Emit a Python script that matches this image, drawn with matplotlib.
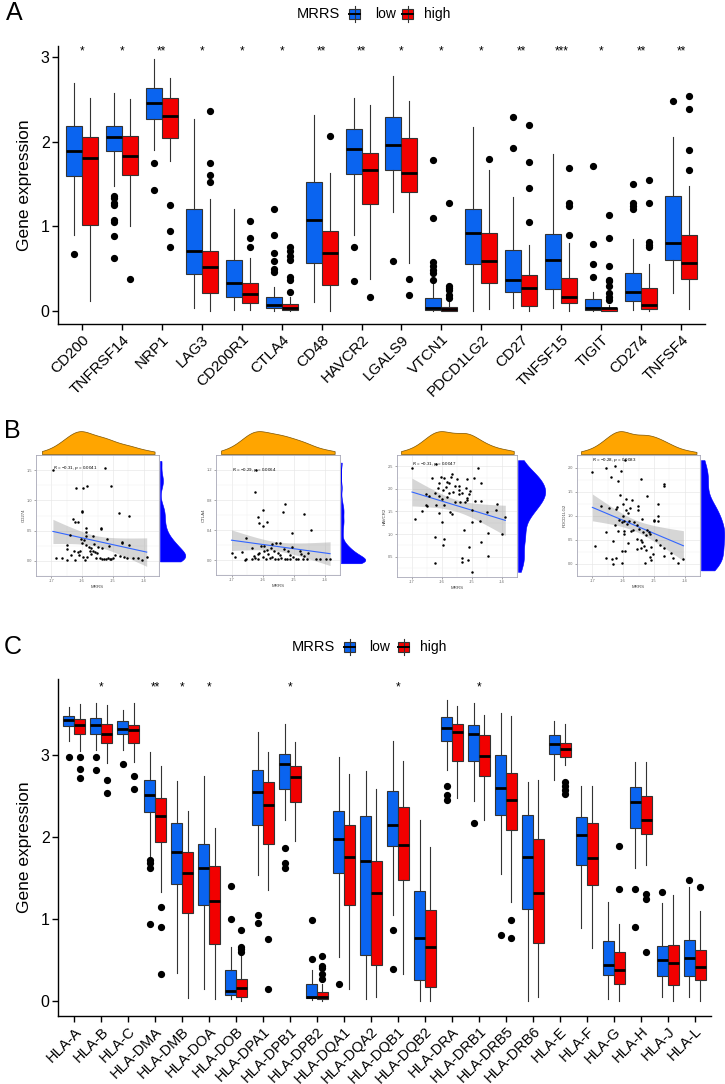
import numpy as np
import matplotlib
matplotlib.use("Agg")
import matplotlib.pyplot as plt
from matplotlib.patches import Rectangle
from matplotlib.lines import Line2D

plt.rcParams['font.family'] = ['Liberation Sans', 'DejaVu Sans']

BLUE = "#0A64F0"
RED = "#F20000"

# ---------------- Panel A data ----------------
genes_A = ["CD200", "TNFRSF14", "NRP1", "LAG3", "CD200R1", "CTLA4", "CD48", "HAVCR2",
           "LGALS9", "VTCN1", "PDCD1LG2", "CD27", "TNFSF15", "TIGIT", "CD274", "TNFSF4"]
stars_A = ["*", "*", "**", "*", "*", "*", "**", "**", "*", "*", "*", "**", "***", "*", "**", "**"]
# [whisker low, Q1, median, Q3, whisker high]
low_A = [[0.90, 1.59, 1.89, 2.19, 2.69], [1.48, 1.89, 2.06, 2.18, 2.57], [1.90, 2.27, 2.46, 2.63, 2.98],
         [0.04, 0.44, 0.71, 1.20, 2.27], [0.01, 0.16, 0.33, 0.60, 1.20], [0.00, 0.03, 0.07, 0.17, 0.28],
         [0.11, 0.57, 1.07, 1.52, 2.32], [0.90, 1.62, 1.91, 2.15, 2.52], [1.17, 1.67, 1.96, 2.29, 2.77],
         [0.00, 0.01, 0.03, 0.15, 0.33], [0.00, 0.55, 0.92, 1.20, 2.17], [0.03, 0.23, 0.37, 0.72, 1.35],
         [0.03, 0.26, 0.60, 0.91, 1.85], [0.00, 0.01, 0.04, 0.14, 0.23], [0.01, 0.12, 0.22, 0.45, 0.85],
         [0.21, 0.60, 0.80, 1.36, 2.06]]
low_A_out = [[0.67], [1.36, 1.33, 1.27, 1.25, 1.07, 1.05, 0.88, 0.63], [1.75, 1.43], [], [],
             [1.20, 0.90, 0.68, 0.59, 0.50, 0.46], [], [0.76, 0.35], [0.59],
             [1.78, 1.10, 0.58, 0.53, 0.48, 0.45, 0.37], [], [2.29, 1.93], [],
             [1.71, 0.79, 0.56, 0.40], [1.50, 1.28, 1.24, 1.21], [2.48]]
high_A = [[0.12, 1.02, 1.81, 2.05, 2.52], [1.00, 1.60, 1.83, 2.07, 2.50], [1.77, 2.04, 2.30, 2.52, 2.75],
          [0.00, 0.21, 0.52, 0.71, 1.32], [0.01, 0.09, 0.20, 0.33, 0.62], [0.00, 0.01, 0.04, 0.08, 0.16],
          [0.00, 0.31, 0.69, 0.94, 1.63], [0.38, 1.26, 1.66, 1.86, 2.43], [0.57, 1.41, 1.63, 2.04, 2.48],
          [0.00, 0.00, 0.02, 0.05, 0.12], [0.02, 0.33, 0.59, 0.92, 1.67], [0.00, 0.06, 0.27, 0.43, 0.78],
          [0.00, 0.09, 0.17, 0.39, 0.80], [0.00, 0.00, 0.03, 0.04, 0.07], [0.00, 0.02, 0.07, 0.27, 0.55],
          [0.02, 0.38, 0.57, 0.90, 1.48]]
high_A_out = [[], [0.38], [1.25, 0.94, 0.76], [2.36, 1.75, 1.60, 1.52], [1.06, 0.86, 0.75],
              [0.75, 0.71, 0.65, 0.60, 0.40, 0.37, 0.23], [2.07], [0.16], [0.38, 0.19],
              [1.28, 0.29, 0.27, 0.25, 0.19, 0.15], [1.80], [2.20, 1.76, 1.45, 1.05],
              [1.69, 1.28, 1.24, 0.90], [1.13, 0.86, 0.53, 0.37, 0.35, 0.29, 0.21, 0.16, 0.13],
              [1.55, 1.28, 0.81, 0.78, 0.76], [2.54, 2.39, 1.90, 1.67]]

# ---------------- Panel C data ----------------
genes_C = ["HLA-A", "HLA-B", "HLA-C", "HLA-DMA", "HLA-DMB", "HLA-DOA", "HLA-DOB", "HLA-DPA1",
           "HLA-DPB1", "HLA-DPB2", "HLA-DQA1", "HLA-DQA2", "HLA-DQB1", "HLA-DQB2", "HLA-DRA",
           "HLA-DRB1", "HLA-DRB5", "HLA-DRB6", "HLA-E", "HLA-F", "HLA-G", "HLA-H", "HLA-J", "HLA-L"]
stars_C = ["", "*", "", "**", "*", "*", "", "", "*", "", "", "", "*", "", "", "*", "", "", "", "", "", "", "", ""]
low_C = [[3.17, 3.35, 3.43, 3.48, 3.58], [3.06, 3.26, 3.36, 3.45, 3.63], [3.06, 3.26, 3.32, 3.42, 3.55],
         [1.74, 2.30, 2.51, 2.69, 3.03], [0.34, 1.43, 1.82, 2.17, 2.68], [0.14, 1.17, 1.62, 1.91, 2.74],
         [0.02, 0.07, 0.12, 0.37, 0.65], [1.53, 2.14, 2.55, 2.82, 3.28], [2.21, 2.59, 2.89, 3.01, 3.38],
         [0.01, 0.03, 0.05, 0.20, 0.37], [0.53, 1.56, 1.97, 2.31, 2.98], [0.02, 0.56, 1.70, 2.25, 2.80],
         [1.05, 1.89, 2.15, 2.56, 3.17], [0.00, 0.25, 0.77, 1.34, 2.21], [2.82, 3.17, 3.33, 3.46, 3.67],
         [2.44, 2.93, 3.25, 3.37, 3.63], [1.55, 2.27, 2.60, 3.00, 3.51], [0.00, 1.12, 1.75, 2.27, 2.67],
         [2.69, 3.01, 3.13, 3.24, 3.41], [0.89, 1.66, 2.02, 2.24, 2.62], [0.02, 0.31, 0.44, 0.73, 1.20],
         [1.62, 2.11, 2.42, 2.61, 2.91], [0.04, 0.30, 0.50, 0.67, 1.19], [0.05, 0.30, 0.52, 0.74, 1.39]]
low_C_out = [[2.98], [2.97, 2.81], [2.89], [1.72, 1.68, 1.62, 0.94], [], [], [1.40, 1.00], [1.05, 0.95],
             [1.87, 1.68, 1.62], [0.98, 0.51], [0.20], [], [0.86, 0.39], [], [2.62, 2.51, 2.45], [2.17],
             [0.80], [], [], [], [], [1.36, 0.90], [1.33], [1.47]]
high_C = [[3.05, 3.26, 3.36, 3.44, 3.62], [2.90, 3.14, 3.26, 3.38, 3.61], [2.91, 3.14, 3.30, 3.37, 3.64],
          [1.33, 1.94, 2.26, 2.47, 2.86], [0.03, 1.07, 1.56, 1.81, 2.31], [0.02, 0.69, 1.22, 1.64, 2.11],
          [0.00, 0.05, 0.16, 0.26, 0.56], [1.35, 1.91, 2.39, 2.67, 3.03], [1.95, 2.43, 2.73, 2.87, 3.16],
          [0.00, 0.02, 0.04, 0.11, 0.20], [0.14, 1.17, 1.76, 2.14, 2.77], [0.04, 0.44, 1.31, 1.71, 2.58],
          [0.33, 1.47, 1.90, 2.36, 2.93], [0.00, 0.17, 0.65, 1.11, 1.88], [2.48, 2.93, 3.28, 3.38, 3.60],
          [2.20, 2.74, 2.99, 3.24, 3.49], [1.21, 2.08, 2.45, 2.78, 3.48], [0.05, 0.70, 1.31, 1.97, 2.70],
          [2.88, 2.97, 3.07, 3.15, 3.38], [0.64, 1.41, 1.74, 2.17, 2.62], [0.00, 0.20, 0.37, 0.59, 0.94],
          [1.66, 2.04, 2.21, 2.50, 2.91], [0.00, 0.19, 0.46, 0.68, 1.29], [0.00, 0.25, 0.41, 0.62, 1.09]]
high_C_out = [[2.98, 2.83, 2.72], [2.69, 2.53], [2.74, 2.59], [1.14, 0.90, 0.32], [], [],
              [0.86, 0.66, 0.63, 0.60], [0.75, 0.14], [], [0.55, 0.42, 0.40, 0.32, 0.27], [], [], [], [],
              [], [], [0.99, 0.77], [], [2.67, 2.62, 2.57, 2.52], [], [1.89, 1.36], [1.30, 1.24, 0.59],
              [], [1.39]]

# ---------------- Panel B data ----------------
genes_B = ["CD274", "CTLA4", "HAVCR2", "PDCD1LG2"]
labels_B = [r"$\it{R}$ = −0.31, $\it{p}$ = 0.0041", r"$\it{R}$ = −0.29, $\it{p}$ = 0.0064",
            r"$\it{R}$ = −0.31, $\it{p}$ = 0.0047", r"$\it{R}$ = −0.28, $\it{p}$ = 0.0083"]
x1 = [-16.95, -15.27, -16.19, -15.98, -15.83, -15.06, -15.99, -15.99, -14.81, -14.48,
      -16.31, -16.24, -16.15, -15.87, -15.38, -15.38, -16.41, -15.65, -15.87, -15.87,
      -15.20, -14.70, -14.70, -16.04, -15.95, -14.48, -16.48, -16.50, -16.27, -16.14,
      -15.87, -15.78, -15.71, -15.65, -15.58, -15.76, -15.47, -15.34, -15.11, -16.86,
      -16.64, -16.50, -16.37, -16.24, -16.10, -15.96, -15.92, -15.83, -15.72, -15.56,
      -15.43, -15.34, -15.28, -15.23, -15.16, -15.10, -15.05, -14.99, -14.94, -14.76,
      -14.64, -14.54, -14.36, -14.18, -14.05, -13.90, -16.08, -15.52, -16.01, -15.61]
y1 = [1.50, 1.53, 1.21, 1.21, 1.24, 1.24, 0.83, 0.80, 0.79, 0.75,
      0.70, 0.65, 0.64, 0.55, 0.55, 0.52, 0.43, 0.41, 0.47, 0.41,
      0.36, 0.32, 0.29, 0.36, 0.34, 0.27, 0.27, 0.20, 0.17, 0.15,
      0.26, 0.23, 0.21, 0.17, 0.14, 0.16, 0.23, 0.21, 0.25, 0.05,
      0.05, 0.02, 0.09, 0.02, 0.10, 0.07, 0.02, 0.07, 0.12, 0.05,
      0.04, 0.03, 0.03, 0.03, 0.04, 0.03, 0.03, 0.05, 0.09, 0.08,
      0.07, 0.05, 0.04, 0.04, 0.01, 0.07, 0.17, 0.13, 0.29, 0.28]
x2 = [-16.21, -16.24, -15.26, -16.14, -16.00, -16.10, -15.84, -16.00, -15.35, -14.66,
      -14.42, -15.05, -16.53, -17.00, -16.89, -16.66, -16.33, -16.05, -15.94, -15.68,
      -15.57, -15.44, -15.72, -15.87, -16.10, -15.96, -15.82, -15.63, -15.49, -15.31,
      -15.17, -15.05, -14.80, -14.75, -14.52, -16.52, -16.35, -16.24, -16.14, -16.00,
      -15.88, -15.77, -15.70, -15.60, -15.51, -15.40, -15.29, -15.21, -15.12, -15.01,
      -14.93, -14.84, -14.70, -14.58, -14.28, -14.14, -13.96, -13.82, -16.56, -16.28,
      -16.16, -15.44, -15.12, -14.66]
y2 = [1.20, 0.90, 0.74, 0.57, 0.67, 0.50, 0.51, 0.46, 0.64, 0.61,
      0.40, 0.36, 0.29, 0.09, 0.04, 0.11, 0.16, 0.19, 0.19, 0.21,
      0.23, 0.23, 0.16, 0.14, 0.10, 0.12, 0.08, 0.12, 0.10, 0.15,
      0.12, 0.18, 0.12, 0.08, 0.09, 0.01, 0.02, 0.03, 0.01, 0.04,
      0.02, 0.03, 0.04, 0.01, 0.02, 0.03, 0.01, 0.02, 0.01, 0.04,
      0.01, 0.02, 0.02, 0.01, 0.01, 0.01, 0.01, 0.01, 0.00, 0.06,
      0.08, 0.07, 0.07, 0.05]
x3 = [-17.00, -16.21, -15.66, -15.71, -14.80, -16.33, -16.04, -15.92, -15.85, -15.51,
      -15.16, -14.95, -14.69, -16.09, -15.76, -15.58, -15.42, -16.15, -15.87, -15.45,
      -15.97, -15.19, -15.08, -16.24, -15.78, -15.65, -15.33, -15.10, -16.42, -16.52,
      -16.10, -15.45, -15.16, -15.16, -15.25, -14.91, -15.99, -15.83, -15.57, -15.39,
      -16.52, -16.21, -15.92, -15.00, -14.69, -14.18, -13.89, -14.50, -14.21, -16.68,
      -16.90, -16.49, -15.72, -15.68, -16.10, -14.75, -15.99, -15.00, -15.26, -16.24,
      -15.92, -14.69, -14.47, -13.99, -15.97, -15.10, -14.47, -16.24, -15.33, -15.33,
      -15.12, -14.99]
y3 = [2.47, 2.54, 2.34, 2.27, 2.46, 2.23, 2.26, 2.23, 2.16, 2.21,
      2.21, 2.23, 2.13, 2.13, 2.13, 2.07, 2.07, 2.02, 2.04, 1.98,
      1.98, 2.02, 1.95, 1.91, 1.91, 1.93, 1.91, 1.88, 1.85, 1.88,
      1.85, 1.88, 1.80, 1.75, 1.70, 1.73, 1.77, 1.83, 1.70, 1.70,
      1.64, 1.64, 1.64, 1.54, 1.73, 1.66, 1.37, 1.48, 1.54, 1.50,
      1.34, 1.63, 1.48, 1.45, 1.46, 1.30, 1.27, 1.27, 1.09, 0.94,
      0.89, 0.82, 1.02, 1.00, 0.75, 0.71, 0.51, 0.35, 0.46, 0.39,
      0.42, 0.16]
x4 = [-17.00, -16.57, -16.28, -15.93, -16.39, -16.06, -16.17, -15.41, -14.66, -14.66,
      -16.09, -15.22, -14.87, -15.92, -16.73, -16.47, -16.19, -16.23, -15.99, -15.70,
      -15.51, -15.53, -15.79, -15.83, -15.92, -15.38, -15.00, -14.85, -14.85, -14.98,
      -15.99, -16.04, -16.13, -15.96, -15.81, -15.66, -15.56, -15.87, -16.28, -15.49,
      -15.68, -15.75, -15.96, -15.98, -15.34, -15.25, -15.15, -15.12, -15.22, -16.56,
      -16.16, -16.33, -15.83, -15.56, -15.41, -15.39, -15.32, -15.56, -15.41, -15.25,
      -15.08, -14.94, -14.81, -14.68, -14.66, -14.38, -14.04, -14.21, -16.92, -16.56,
      -16.36, -16.23, -16.34, -16.05, -16.05, -15.93, -15.28, -15.11, -15.08, -15.02,
      -14.43]
y4 = [1.91, 1.99, 2.04, 2.17, 1.82, 1.94, 1.72, 1.78, 1.67, 1.63,
      1.43, 1.41, 1.25, 1.36, 1.20, 1.17, 1.19, 1.15, 1.25, 1.33,
      1.21, 1.13, 1.17, 1.07, 1.12, 0.94, 0.90, 1.00, 0.89, 0.92,
      1.00, 0.87, 0.92, 0.89, 0.90, 0.87, 0.81, 0.84, 0.81, 0.73,
      0.71, 0.68, 0.68, 0.62, 0.66, 0.61, 0.66, 0.62, 0.71, 0.66,
      0.68, 0.48, 0.43, 0.53, 0.51, 0.45, 0.38, 0.31, 0.33, 0.30,
      0.36, 0.49, 0.39, 0.33, 0.16, 0.12, 0.10, 0.02, 0.37, 0.12,
      0.10, 0.12, 0.01, 0.02, 0.28, 0.28, 0.02, 0.14, 0.09, 0.20,
      0.22]
yticks_B = [[0.0, 0.5, 1.0, 1.5], [0.0, 0.4, 0.8, 1.2], [0.5, 1.0, 1.5, 2.0, 2.5], [0.0, 0.5, 1.0, 1.5, 2.0]]
xticks_B = [-17, -16, -15, -14]

# ---------------- figure ----------------
W, H = 725, 1084
fig = plt.figure(figsize=(W / 100, H / 100), dpi=100)


def add_ax(l, t, r, b):
    return fig.add_axes([l / W, 1 - b / H, (r - l) / W, (b - t) / H])


def box_panel(ax, genes, low, low_out, high, high_out, stars, star_y, ylim, tick_fs):
    for i in range(len(genes)):
        for s, fl, off, col in [(low[i], low_out[i], -0.2, BLUE), (high[i], high_out[i], 0.2, RED)]:
            d = dict(whislo=s[0], q1=s[1], med=s[2], q3=s[3], whishi=s[4], fliers=fl)
            ax.bxp([d], positions=[i + off], widths=0.4, showcaps=False, patch_artist=True,
                   boxprops=dict(facecolor=col, edgecolor="#333333", linewidth=0.8),
                   medianprops=dict(color="black", linewidth=2.0),
                   whiskerprops=dict(color="#333333", linewidth=0.8),
                   flierprops=dict(marker="o", markerfacecolor="black", markeredgecolor="black",
                                   markersize=4.2),
                   manage_ticks=False)
        if stars[i]:
            ax.text(i, star_y, stars[i], ha="center", va="center", fontsize=8.5)
    ax.set_xlim(-0.6, len(genes) - 0.4)
    ax.set_ylim(*ylim)
    ax.set_xticks(range(len(genes)))
    ax.set_xticklabels(genes, rotation=45, ha="right", rotation_mode="anchor", fontsize=tick_fs)
    ax.set_yticks([0, 1, 2, 3])
    ax.tick_params(axis="y", labelsize=11.5, length=4, width=1, pad=2)
    ax.tick_params(axis="x", length=4, width=1, pad=2)
    for sp in ["top", "right"]:
        ax.spines[sp].set_visible(False)
    for sp in ["left", "bottom"]:
        ax.spines[sp].set_linewidth(1.0)
    ax.set_ylabel("Gene expression", fontsize=12.5, labelpad=6)
    ax.patch.set_alpha(0)


def draw_legend(y, x_title, keys):
    yf = 1 - y / H
    fig.text(x_title / W, yf, "MRRS", fontsize=10.5, va="center", ha="left")
    for x0, x1, col, lab, xl in keys:
        xc = (x0 + x1) / 2
        fig.add_artist(Line2D([xc / W, xc / W], [1 - (y - 8) / H, 1 - (y + 8) / H],
                              transform=fig.transFigure, color="#333333", lw=0.8))
        fig.add_artist(Rectangle((x0 / W, 1 - (y + 5) / H), (x1 - x0) / W, 10 / H,
                                 transform=fig.transFigure, fc=col, ec="#333333", lw=0.8))
        fig.add_artist(Line2D([x0 / W, x1 / W], [yf, yf], transform=fig.transFigure,
                              color="black", lw=1.4))
        fig.text(xl / W, yf, lab, fontsize=10, va="center", ha="left")


# Panel A
axA = add_ax(58, 46, 705, 324)
box_panel(axA, genes_A, low_A, low_A_out, high_A, high_A_out, stars_A, 3.07, (-0.1535, 3.129), 11)
draw_legend(14, 297, [(349, 360, BLUE, "low", 375), (402, 413, RED, "high", 424)])
fig.text(6 / W, 1 - 13 / H, "A", fontsize=18, va="center", ha="left")

# Panel C
axC = add_ax(58, 679, 711, 1016)
box_panel(axC, genes_C, low_C, low_C_out, high_C, high_C_out, stars_C, 3.83, (-0.187, 3.927), 10.5)
draw_legend(647, 292, [(344, 355, BLUE, "low", 369), (398, 409, RED, "high", 420)])
fig.text(4 / W, 1 - 647 / H, "C", fontsize=18, va="center", ha="left")

# Panel B
fig.text(4 / W, 1 - 431 / H, "B", fontsize=18, va="center", ha="left")


def kde(vals, grid):
    vals = np.asarray(vals, float)
    n = len(vals)
    sd = vals.std(ddof=1)
    q75, q25 = np.percentile(vals, [75, 25])
    bw = 0.9 * min(sd, (q75 - q25) / 1.34) * n ** -0.2
    z = (grid[:, None] - vals[None, :]) / bw
    return np.exp(-0.5 * z ** 2).sum(1) / (n * bw * np.sqrt(2 * np.pi))


boxes_B = [(36, 455, 159, 576, 186), (216, 455, 340, 575, 366), (397, 455, 517, 577, 546), (577, 455, 700, 576, 725)]
xlims_B = [(-17.11, -13.78), (-17.14, -13.67), (-17.11, -13.80), (-17.10, -13.95)]
ylims_B = [(-0.21, 1.62), (-0.14, 1.29), (0.05, 2.65), (-0.10, 2.27)]
data_B = [(x1, y1), (x2, y2), (x3, y3), (x4, y4)]

for k in range(4):
    l, t, r, b, rr = boxes_B[k]
    xs = np.array(data_B[k][0], float)
    ys = np.array(data_B[k][1], float)
    n = min(len(xs), len(ys))
    xs, ys = xs[:n], ys[:n]
    ax = add_ax(l, t, r, b)
    ax.set_xlim(*xlims_B[k])
    ax.set_ylim(*ylims_B[k])
    ax.set_xticks(xticks_B)
    ax.set_yticks(yticks_B[k])
    ax.set_xticklabels([str(v) for v in xticks_B])
    ax.set_yticklabels(["%.1f" % v for v in yticks_B[k]])
    yt = yticks_B[k]
    ax.set_xticks([v + 0.5 for v in xticks_B[:-1]] + [xticks_B[0] - 0.5, xticks_B[-1] + 0.5], minor=True)
    ax.set_yticks([v + (yt[1] - yt[0]) / 2 for v in yt] + [yt[0] - (yt[1] - yt[0]) / 2], minor=True)
    ax.grid(True, which="major", color="#e6e6e6", lw=0.45)
    ax.grid(True, which="minor", color="#f0f0f0", lw=0.3)
    ax.set_axisbelow(True)
    ax.tick_params(which="major", labelsize=2.8, length=1.5, width=0.4, pad=1, colors="#666666")
    ax.tick_params(which="minor", length=0)
    for sp in ax.spines.values():
        sp.set_color("#a8a8b8")
        sp.set_linewidth(0.6)
    ax.set_xlabel("MRRS", fontsize=3.2, labelpad=1, color="#444444")
    ax.set_ylabel(genes_B[k], fontsize=3.2, labelpad=1, color="#444444")
    # regression with 95% CI
    X = np.column_stack([np.ones(n), xs])
    beta = np.linalg.lstsq(X, ys, rcond=None)[0]
    resid = ys - X @ beta
    s2 = resid @ resid / (n - 2)
    cov = s2 * np.linalg.inv(X.T @ X)
    xg = np.linspace(xs.min(), xs.max(), 100)
    Xg = np.column_stack([np.ones_like(xg), xg])
    fit = Xg @ beta
    se = np.sqrt(np.einsum("ij,jk,ik->i", Xg, cov, Xg))
    ax.fill_between(xg, fit - 1.99 * se, fit + 1.99 * se, color="#999999", alpha=0.4, lw=0, zorder=2)
    ax.plot(xg, fit, color="#3366FF", lw=0.8, zorder=3)
    ax.scatter(xs, ys, s=3.2, color="black", lw=0, zorder=4)
    ax.text(xs.min(), ys.max(), labels_B[k], fontsize=3.2, ha="left", va="center", zorder=5)
    # top marginal density
    axt = add_ax(l, 430, r, 454)
    gx = np.linspace(xs.min(), xs.max(), 200)
    dx = kde(xs, gx)
    axt.fill_between(gx, 0, dx, facecolor="#FFA500", edgecolor="#7a5200", lw=0.5)
    axt.set_xlim(*xlims_B[k])
    axt.set_ylim(0, dx.max() * 1.05)
    axt.axis("off")
    # right marginal density
    axr = add_ax(r + 1, t, rr, b)
    gy = np.linspace(ys.min(), ys.max(), 200)
    dy = kde(ys, gy)
    axr.fill_betweenx(gy, 0, dy, facecolor="#0000FF", edgecolor="#0000FF", lw=0.4)
    axr.set_ylim(*ylims_B[k])
    axr.set_xlim(0, dy.max() * 1.03)
    axr.axis("off")

fig.savefig("out.png", dpi=100)
